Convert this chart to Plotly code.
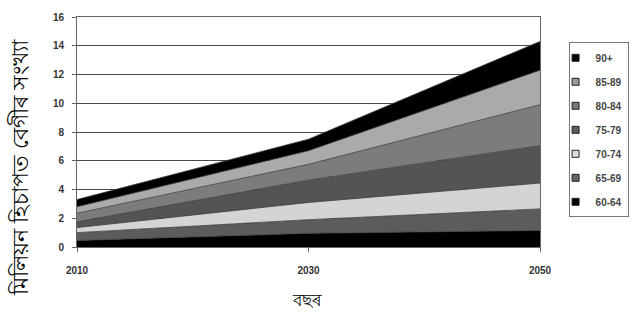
import plotly.graph_objects as go

years = [2010, 2030, 2050]
age_groups = ["60-64", "65-69", "70-74", "75-79", "80-84", "85-89", "90+"]
v_60_64 = [0.45, 0.95, 1.15]
v_65_69 = [0.55, 0.95, 1.50]
v_70_74 = [0.35, 1.20, 1.80]
v_75_79 = [0.40, 1.55, 2.60]
v_80_84 = [0.60, 1.10, 2.85]
v_85_89 = [0.45, 0.95, 2.40]
v_90p = [0.50, 0.80, 2.00]
series = [v_60_64, v_65_69, v_70_74, v_75_79, v_80_84, v_85_89, v_90p]

fill_colors = ["#000000", "#5c5c5c", "#d4d4d4", "#545454", "#7c7c7c", "#aaaaaa", "#000000"]
legend_colors = ["#000000", "#666666", "#dcdcdc", "#5e5e5e", "#777777", "#9a9a9a", "#000000"]

y_title = "মিলিয়ন হিচাপত বেগীৰ সংখ্যা"
x_title = "বছৰ"

fig = go.Figure()
for name, vals, col in zip(age_groups, series, fill_colors):
    fig.add_trace(go.Scatter(
        x=years, y=vals, name=name, stackgroup="one", mode="lines",
        line=dict(width=0.8, color="#3a3a3a"), fillcolor=col, showlegend=False,
    ))
# legend entries, top to bottom: 90+ ... 60-64
for i in range(len(age_groups) - 1, -1, -1):
    fig.add_trace(go.Scatter(
        x=[None], y=[None], name=age_groups[i], mode="markers", legendgroup=f"g{i}",
        marker=dict(symbol="square", size=7, color=legend_colors[i], line=dict(color="#222", width=1)),
    ))

tickfont = dict(family="Liberation Sans, Arial", size=10, color="#333", weight="bold")
fig.update_layout(
    width=640, height=323,
    margin=dict(l=77, r=93, t=11, b=76),
    paper_bgcolor="white", plot_bgcolor="white",
    showlegend=True,
    legend=dict(
        x=1.0617, y=0.89, xanchor="left", yanchor="top",
        bordercolor="#777", borderwidth=1,
        font=dict(family="Liberation Sans, Arial", size=10, color="#444", weight="bold"),
        traceorder="grouped", tracegroupgap=5, itemwidth=30, indentation=-14,
    ),
    xaxis=dict(
        range=[2010, 2050], tickvals=years, ticktext=[str(y) for y in years],
        showgrid=False, showline=True, linecolor="#666", linewidth=1, mirror=True,
        ticks="outside", ticklen=4, tickcolor="#666", tickfont=tickfont,
        ticklabelstandoff=10, zeroline=False,
    ),
    yaxis=dict(
        range=[0, 16], dtick=2, showgrid=True, gridcolor="#4a4a4a", gridwidth=1,
        showline=True, linecolor="#666", linewidth=1, mirror=True,
        ticks="outside", ticklen=4, tickcolor="#666", tickfont=tickfont,
        ticklabelstandoff=6, zeroline=False,
    ),
    annotations=[
        dict(text=y_title, x=-0.1255, y=0.345, xref="paper", yref="paper",
             textangle=-90, showarrow=False, xanchor="center", yanchor="middle",
             font=dict(size=22, color="black")),
        dict(text=x_title, x=0.497, y=-0.23, xref="paper", yref="paper",
             showarrow=False, xanchor="center", yanchor="middle",
             font=dict(size=17, color="black")),
    ],
)
fig.write_html("out.html")
